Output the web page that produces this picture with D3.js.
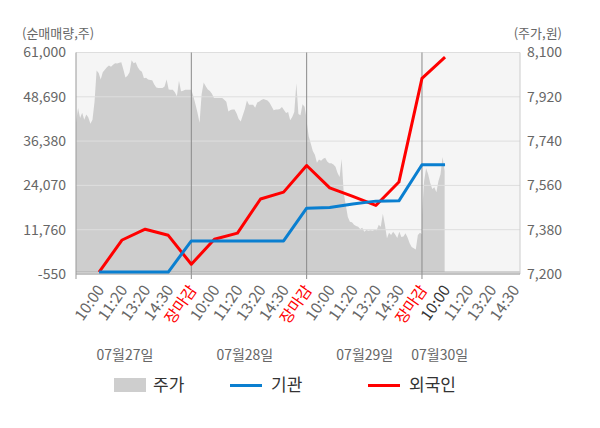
<!DOCTYPE html>
<html>
<head>
<meta charset="utf-8">
<script src="https://cdn.jsdelivr.net/npm/d3@7"></script>
<style>
  body { margin: 0; background: #fff; }
  text { font-family: "Noto Sans CJK KR", "Noto Sans", sans-serif; }
</style>
</head>
<body>
<svg width="600" height="428"></svg>
<script>
// tick labels / categories
var dates = ["07월27일", "07월28일", "07월29일", "07월30일"];
var slotNames = ["10:00", "11:20", "13:20", "14:30", "장마감"];
var leftTicks = [-550, 11760, 24070, 36380, 48690, 61000];
var rightTicks = [7200, 7380, 7560, 7740, 7920, 8100];

// net buying (shares), one value per slot: 10:00 day1 ... 10:00 day4
var foreign = [0, 8900, 11900, 10200, 2150, 9100, 10800, 20300, 22200, 29600,
               23400, 21000, 18500, 25000, 53800, 59700];
var inst = [0, 0, 0, 0, 8640, 8640, 8640, 8640, 8640, 17750,
            17900, 18900, 19700, 19780, 29800, 29800];

// price (won), sampled evenly over each trading day
var price27 = [7816, 7875, 7834, 7855, 7827, 7848, 7836, 7810, 7827, 7900,
               8027, 8017, 7990, 8020, 8030, 8040, 8047, 8042, 8050, 8056,
               8055, 8058, 8060, 8031, 7998, 8006, 8020, 8069, 8056, 8060,
               8040, 8028, 8022, 7995, 7997, 7990, 7988, 7987, 7970, 7958,
               7956, 7956, 7956, 7962, 7990, 7950, 7949, 7949, 7938, 7922,
               7985, 7943, 7945, 7949, 7949, 7949, 7949];
var price28 = [7949, 7922, 7890, 7855, 7815, 7930, 7978, 7963, 7950, 7944,
               7932, 7915, 7915, 7915, 7915, 7915, 7908, 7900, 7860, 7866,
               7868, 7868, 7852, 7830, 7820, 7845, 7870, 7905, 7888, 7888,
               7888, 7876, 7897, 7901, 7907, 7911, 7908, 7905, 7896, 7881,
               7865, 7868, 7868, 7870, 7879, 7866, 7854, 7858, 7825, 7838,
               7858, 7975, 7850, 7845, 7890, 7880, 7830];
var price29 = [7820, 7760, 7730, 7700, 7685, 7652, 7665, 7660, 7668, 7672,
               7657, 7650, 7650, 7645, 7636, 7610, 7594, 7667, 7530, 7480,
               7432, 7412, 7410, 7400, 7395, 7392, 7383, 7388, 7372, 7379,
               7376, 7378, 7376, 7380, 7378, 7400, 7392, 7445, 7400, 7345,
               7368, 7358, 7372, 7360, 7346, 7372, 7350, 7352, 7366, 7348,
               7325, 7310, 7305, 7300, 7358, 7368, 7362];
var price30 = [7440, 7575, 7630, 7605, 7570, 7545, 7552, 7532, 7578, 7605,
               7675, 7620];

var margin = {top: 52.5, right: 80, bottom: 154, left: 76},
    width = 600 - margin.left - margin.right,
    height = 428 - margin.top - margin.bottom;

var svg = d3.select("svg")
  .append("g")
    .attr("transform", "translate(" + margin.left + "," + margin.top + ")");

// slot units: 10:00 of day d = 5d, 장마감 = 5d+4
var x = d3.scaleLinear().domain([-1, 18.25]).range([0, width]);
var y = d3.scaleLinear().domain([-550, 61000]).range([height, 0]);
var y1 = d3.scaleLinear().domain([7200, 8100]).range([height, 0]);

var step = 5 / 56;
var priceData = [];
[price27, price28, price29, price30].forEach(function(arr, d) {
  arr.forEach(function(p, k) {
    priceData.push({t: 5 * d - 1 + k * step, p: p});
  });
});

svg.append("rect")
    .attr("width", width)
    .attr("height", height)
    .attr("fill", "#f5f5f5");

var area = d3.area()
    .x(function(d) { return x(d.t); })
    .y0(y(0))
    .y1(function(d) { return y1(d.p); });

svg.append("path")
    .attr("fill", "#cecece")
    .attr("d", area(priceData));

// horizontal grid
svg.selectAll(".grid")
    .data(leftTicks)
  .enter().append("line")
    .attr("class", "grid")
    .attr("x1", 0).attr("x2", width)
    .attr("y1", function(d) { return y(d); })
    .attr("y2", function(d) { return y(d); })
    .attr("stroke", "#dedede");

svg.append("line")
    .attr("x1", 0).attr("x2", width)
    .attr("y1", y(0)).attr("y2", y(0))
    .attr("stroke", "#aaa");

// day separators
svg.selectAll(".dayline")
    .data([4, 9, 14])
  .enter().append("line")
    .attr("class", "dayline")
    .attr("x1", function(d) { return x(d); })
    .attr("x2", function(d) { return x(d); })
    .attr("y1", 0).attr("y2", height + 5)
    .attr("stroke", "#8a8a8a");

// axis lines
svg.append("line")
    .attr("x1", 0).attr("x2", 0).attr("y1", 0).attr("y2", height + 5)
    .attr("stroke", "#999");
svg.append("line")
    .attr("x1", width).attr("x2", width).attr("y1", 0).attr("y2", height)
    .attr("stroke", "#ccc");
svg.append("line")
    .attr("x1", 0).attr("x2", width).attr("y1", height).attr("y2", height)
    .attr("stroke", "#999");

var line = d3.line()
    .x(function(d, i) { return x(i); })
    .y(function(d) { return y(d); });

svg.append("path")
    .attr("fill", "none")
    .attr("stroke", "#ff0000")
    .attr("stroke-width", 3)
    .attr("stroke-linejoin", "round")
    .attr("d", line(foreign));

svg.append("path")
    .attr("fill", "none")
    .attr("stroke", "#0a7fd0")
    .attr("stroke-width", 3)
    .attr("stroke-linejoin", "round")
    .attr("d", line(inst));

// y labels
svg.selectAll(".ly")
    .data(leftTicks)
  .enter().append("text")
    .attr("x", -10)
    .attr("y", function(d) { return y(d); })
    .attr("dy", "0.35em")
    .attr("text-anchor", "end")
    .attr("fill", "#666")
    .style("font-size", "14px")
    .text(function(d) { return d3.format(",")(d).replace("−", "-"); });

svg.selectAll(".ry")
    .data(rightTicks)
  .enter().append("text")
    .attr("x", width + 7)
    .attr("y", function(d) { return y1(d); })
    .attr("dy", "0.35em")
    .attr("fill", "#666")
    .style("font-size", "14px")
    .text(function(d) { return d3.format(",")(d); });

svg.append("text")
    .attr("x", -54).attr("y", -15)
    .attr("fill", "#666")
    .style("font-size", "13px")
    .text("(순매매량,주)");
svg.append("text")
    .attr("x", width + 42).attr("y", -15)
    .attr("text-anchor", "end")
    .attr("fill", "#666")
    .style("font-size", "13px")
    .text("(주가,원)");

// x labels
var xLabels = [];
dates.forEach(function(dt, d) {
  slotNames.forEach(function(s, j) {
    if (d === 3 && j === 4) return;
    xLabels.push({i: 5 * d + j, name: s, current: d === 3 && j === 0});
  });
});

svg.selectAll(".xl")
    .data(xLabels)
  .enter().append("text")
    .attr("transform", function(d) {
      return "translate(" + (x(d.i) + 6) + "," + (height + 16) + ") rotate(-55)";
    })
    .attr("text-anchor", "end")
    .attr("fill", function(d) { return d.name === "장마감" ? "#ff0000" : (d.current ? "#333" : "#666"); })
    .style("font-size", "15.5px")
    .text(function(d) { return d.name; });

var dateLabelAt = [1.12, 6.32, 11.52, 14.77];
svg.selectAll(".dl")
    .data(dates)
  .enter().append("text")
    .attr("x", function(d, i) { return x(dateLabelAt[i]); })
    .attr("y", height + 86)
    .attr("text-anchor", "middle")
    .attr("fill", "#666")
    .style("font-size", "14px")
    .text(function(d) { return d; });

// legend
var legend = d3.select("svg").append("g");
legend.append("rect")
    .attr("x", 114).attr("y", 378).attr("width", 32).attr("height", 14)
    .attr("fill", "#cecece");
legend.append("text")
    .attr("x", 153).attr("y", 391)
    .attr("fill", "#333").style("font-size", "17px").text("주가");
legend.append("line")
    .attr("x1", 230).attr("x2", 262).attr("y1", 385.5).attr("y2", 385.5)
    .attr("stroke", "#0a7fd0").attr("stroke-width", 3);
legend.append("text")
    .attr("x", 271).attr("y", 391)
    .attr("fill", "#333").style("font-size", "17px").text("기관");
legend.append("line")
    .attr("x1", 368).attr("x2", 400).attr("y1", 385.5).attr("y2", 385.5)
    .attr("stroke", "#ff0000").attr("stroke-width", 3);
legend.append("text")
    .attr("x", 409).attr("y", 391)
    .attr("fill", "#333").style("font-size", "17px").text("외국인");
</script>
</body>
</html>
